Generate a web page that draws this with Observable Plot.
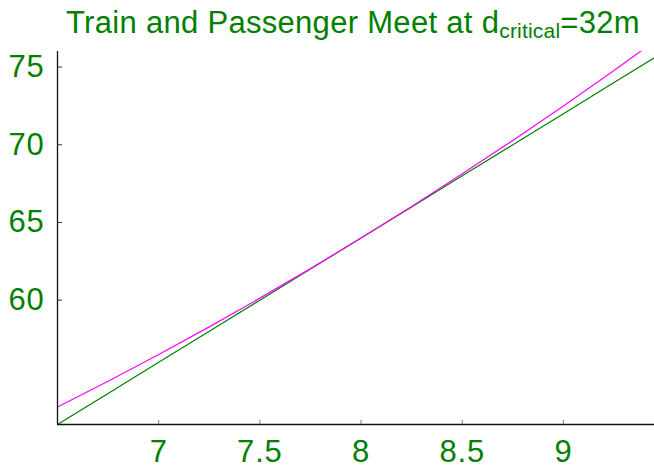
<!DOCTYPE html>
<html>
<head>
<meta charset="utf-8">
<script src="https://cdn.jsdelivr.net/npm/d3@7"></script>
<script src="https://cdn.jsdelivr.net/npm/@observablehq/plot@0.6"></script>
<style>
  html, body { margin: 0; padding: 0; background: #fff; }
  #wrap { position: relative; width: 654px; height: 467px; font-family: "Liberation Sans", Arial, sans-serif; }
  #title { position: absolute; left: 66px; top: 8px; font-size: 31px; line-height: 30px; letter-spacing: 0.3px; color: #008000; white-space: nowrap; }
  #title .sub { font-size: 21px; line-height: 0; position: relative; top: 5px; letter-spacing: 0.2px; }
  svg text { letter-spacing: 0.8px; }
</style>
</head>
<body>
<div id="wrap">
  <div id="title">Train and Passenger Meet at d<span class="sub">critical</span>=32m</div>
</div>
<script>
// Time (s)
const time = [6.5, 6.75, 7, 7.25, 7.5, 7.75, 8, 8.25, 8.5, 8.75, 9, 9.25, 9.5];
// Train position (m) – magenta curve
const trainPos = [53.13, 54.78, 56.5, 58.28, 60.13, 62.03, 64, 66.03, 68.13, 70.28, 72.5, 74.78, 77.13];
// Passenger position (m) – green line
const passengerPos = [52, 54, 56, 58, 60, 62, 64, 66, 68, 70, 72, 74, 76];
const xTicks = [7, 7.5, 8, 8.5, 9];
const yTicks = [60, 65, 70, 75];
const xDomain = [6.5, 9.45];
const yDomain = [52, 76];

const train = time.map((t, i) => ({t, d: trainPos[i]}));
const passenger = time.map((t, i) => ({t, d: passengerPos[i]}));

const green = "#008000";
const fmt = d => String(d);
const chart = Plot.plot({
  width: 654,
  height: 467,
  marginLeft: 57,
  marginRight: 0,
  marginTop: 51,
  marginBottom: 43,
  style: {fontFamily: "'Liberation Sans', Arial, sans-serif", fontSize: "31px", background: "transparent", overflow: "visible"},
  x: {domain: xDomain},
  y: {domain: yDomain},
  marks: [
    Plot.line(passenger, {x: "t", y: "d", stroke: green, strokeWidth: 1.2, clip: true}),
    Plot.line(train, {x: "t", y: "d", stroke: "#ff00ff", strokeWidth: 1.2, clip: true}),
    Plot.ruleX([xDomain[0]], {stroke: "#111", strokeWidth: 1.3}),
    Plot.ruleY([yDomain[0]], {stroke: "#111", strokeWidth: 1.3}),
    Plot.axisY(yTicks, {anchor: "left", tickSize: 5, dx: 5, tickFormat: () => "", label: null, stroke: "#333"}),
    Plot.axisY(yTicks, {anchor: "left", tickSize: 0, tickPadding: 13, tickFormat: fmt, fill: green, label: null, fontSize: 31}),
    Plot.axisX(xTicks, {anchor: "bottom", tickSize: 4, dy: -4, tickFormat: () => "", label: null, stroke: "#777"}),
    Plot.axisX(xTicks, {anchor: "bottom", tickSize: 0, tickPadding: 15, tickFormat: fmt, fill: green, label: null, fontSize: 31})
  ]
});
chart.style.position = "absolute";
chart.style.left = "0";
chart.style.top = "0";
document.getElementById("wrap").prepend(chart);
</script>
</body>
</html>
